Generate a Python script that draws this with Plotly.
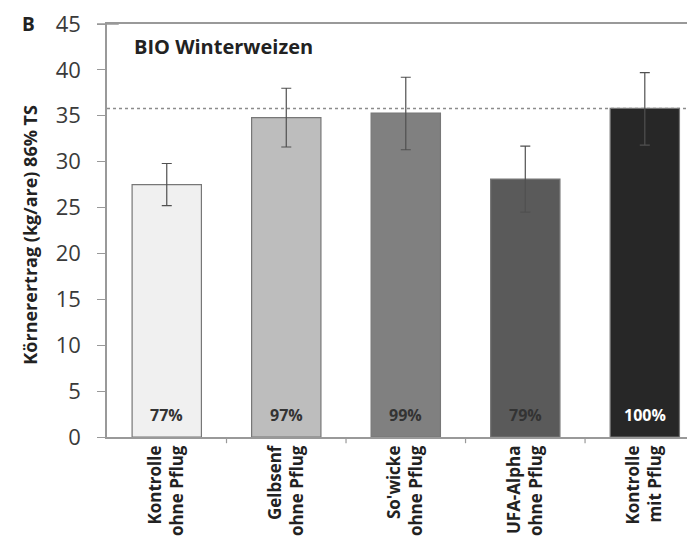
import plotly.graph_objects as go

categories = [
    "Kontrolle<br>ohne Pflug",
    "Gelbsenf<br>ohne Pflug",
    "So'wicke<br>ohne Pflug",
    "UFA-Alpha<br>ohne Pflug",
    "Kontrolle<br>mit Pflug",
]
yields = [27.5, 34.8, 35.3, 28.1, 35.8]
err_plus = [2.3, 3.2, 3.9, 3.6, 3.9]
err_minus = [2.3, 3.2, 4.0, 3.6, 4.0]
percent_labels = ["77%", "97%", "99%", "79%", "100%"]
reference_level = 35.8

bar_colors = ["#f0f0f0", "#bdbdbd", "#808080", "#5a5a5a", "#272727"]
label_colors = ["#333333", "#333333", "#333333", "#333333", "#ffffff"]
FONT = "Open Sans, Lato, sans-serif"

# the page adds an 8px body margin, so the figure is a bit smaller than the window
W, H = 687, 546
M = {"l": 99, "r": 0, "t": 11, "b": 117}
plot_w = W - M["l"] - M["r"]
plot_h = H - M["t"] - M["b"]

fig = go.Figure()

fig.add_trace(
    go.Bar(
        x=list(range(len(categories))),
        y=yields,
        width=0.58,
        marker={"color": bar_colors, "line": {"color": "#777777", "width": 1.2}},
        error_y={
            "type": "data",
            "symmetric": False,
            "array": err_plus,
            "arrayminus": err_minus,
            "color": "#505050",
            "thickness": 1.2,
            "width": 5,
        },
        showlegend=False,
        hoverinfo="skip",
    )
)

# dotted reference line at the level of "Kontrolle mit Pflug"
fig.add_shape(
    type="line", xref="paper", yref="y", x0=0, x1=1,
    y0=reference_level, y1=reference_level,
    line={"color": "#8c8c8c", "width": 1.5, "dash": "dot"},
    layer="below",
)
# small extension of the top frame line to the left of the axis
fig.add_shape(
    type="line", xref="paper", yref="paper", x0=-10 / plot_w, x1=0.02, y0=1, y1=1,
    line={"color": "#999999", "width": 1.5},
)

for i, (txt, col) in enumerate(zip(percent_labels, label_colors)):
    fig.add_annotation(
        x=i, y=2.4, text=f"<b>{txt}</b>", showarrow=False,
        font={"size": 16, "color": col, "family": FONT},
    )

fig.add_annotation(
    xref="paper", yref="paper", x=25 / plot_w, y=1 - 23 / plot_h,
    xanchor="left", yanchor="middle",
    text="<b>BIO Winterweizen</b>", showarrow=False,
    font={"size": 20, "color": "#222222", "family": FONT},
)
fig.add_annotation(
    xref="paper", yref="paper", x=-79 / plot_w, y=1.0, xanchor="center", yanchor="middle",
    text="<b>B</b>", showarrow=False,
    font={"size": 19, "color": "#222222", "family": FONT},
)
# y axis title
fig.add_annotation(
    xref="paper", yref="paper", x=-77 / plot_w, y=0.49, xanchor="center", yanchor="middle",
    text="<b>Körnerertrag (kg/are) 86% TS</b>", textangle=-90, showarrow=False,
    font={"size": 18, "color": "#222222", "family": FONT},
)

fig.update_layout(
    width=W,
    height=H,
    paper_bgcolor="white",
    plot_bgcolor="white",
    margin=M,
    font={"family": FONT, "color": "#333333"},
    xaxis={
        "range": [-0.5, 4.42],
        "tickmode": "array",
        "tickvals": list(range(len(categories))),
        "ticktext": [f"<b>{c}</b>" for c in categories],
        "tickangle": -90,
        "tickfont": {"size": 17, "color": "#222222"},
        "showline": True,
        "mirror": True,
        "linecolor": "#999999",
        "linewidth": 1.5,
        "ticks": "",
        "showgrid": False,
        "zeroline": False,
    },
    yaxis={
        "range": [0, 45],
        "dtick": 5,
        "tickfont": {"size": 22, "color": "#3a3a3a"},
        "ticks": "outside",
        "ticklen": 8,
        "tickcolor": "#999999",
        "ticklabelstandoff": 12,
        "ticklabeloverflow": "allow",
        "showline": True,
        "linecolor": "#999999",
        "linewidth": 1.5,
        "showgrid": False,
        "zeroline": False,
    },
)

# category boundary ticks on the x axis
for b in [0.5, 1.5, 2.5, 3.5]:
    fig.add_shape(
        type="line", xref="x", yref="paper", x0=b, x1=b, y0=0, y1=-0.015,
        line={"color": "#999999", "width": 1.2},
    )

fig.write_html("out.html")
